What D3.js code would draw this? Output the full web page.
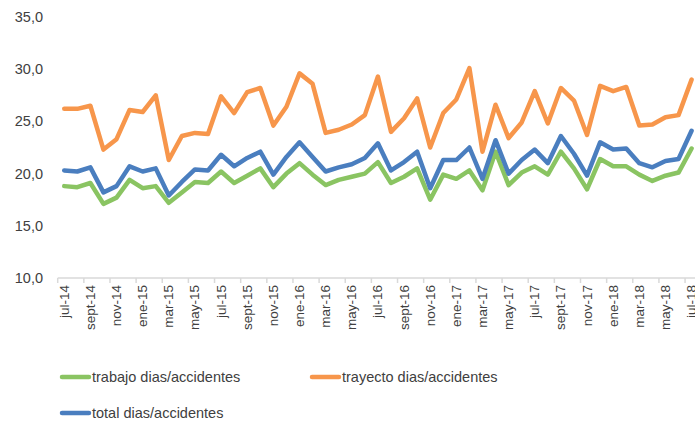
<!DOCTYPE html>
<html>
<head>
<meta charset="utf-8">
<script src="https://cdn.jsdelivr.net/npm/d3@7"></script>
<style>
  html, body { margin: 0; padding: 0; background: #fff; }
  svg { display: block; font-family: "Liberation Sans", Arial, sans-serif; }
</style>
</head>
<body>
<svg id="chart" width="695" height="423"></svg>
<script>
const months = ["jul","ago","sept","oct","nov","dic","ene","feb","mar","abr","may","jun"];
const categories = [];
for (let i = 0; i < 49; i++) {
  const m = (6 + i) % 12;
  const y = 14 + Math.floor((6 + i) / 12);
  categories.push(months[(i) % 12] + "-" + y);
}
const trabajo = [18.8,18.7,19.1,17.1,17.7,19.4,18.6,18.8,17.2,18.2,19.2,19.1,20.2,19.1,19.8,20.5,18.7,20.0,21.0,19.9,18.9,19.4,19.7,20.0,21.1,19.1,19.7,20.5,17.5,19.9,19.5,20.3,18.4,22.1,18.9,20.1,20.7,19.9,22.1,20.5,18.5,21.4,20.7,20.7,19.9,19.3,19.8,20.1,22.4];
const trayecto = [26.2,26.2,26.5,22.3,23.3,26.1,25.9,27.5,21.3,23.6,23.9,23.8,27.4,25.8,27.8,28.2,24.6,26.4,29.6,28.6,23.9,24.2,24.7,25.6,29.3,24.0,25.3,27.2,22.5,25.8,27.1,30.1,22.1,26.6,23.4,24.9,27.9,24.8,28.2,27.0,23.7,28.4,27.9,28.3,24.6,24.7,25.4,25.6,29.0];
const total = [20.3,20.2,20.6,18.2,18.8,20.7,20.2,20.5,17.9,19.2,20.4,20.3,21.8,20.7,21.5,22.1,19.9,21.6,23.0,21.6,20.2,20.6,20.9,21.5,22.9,20.3,21.1,22.1,18.6,21.3,21.3,22.5,19.5,23.2,20.0,21.3,22.3,21.0,23.6,21.9,19.8,23.0,22.3,22.4,21.0,20.6,21.2,21.4,24.1];
const yTicks = [10,15,20,25,30,35];
const seriesNames = ["trabajo dias/accidentes","trayecto dias/accidentes","total dias/accidentes"];
const colors = ["#8AC462","#F7964B","#4A7EBF"];

const svg = d3.select("#chart");
const left = 57.7, bandW = 13.07;
const x = d3.scaleBand().domain(categories).range([left, left + bandW * categories.length]).paddingInner(0).paddingOuter(0);
const y = d3.scaleLinear().domain([10, 35]).range([278, 17]);

// y labels
svg.append("g").selectAll("text").data(yTicks).join("text")
  .attr("x", 43).attr("y", d => y(d)).attr("dy", "0.35em")
  .attr("text-anchor", "end").attr("font-size", "14.5px").attr("fill", "#404040")
  .text(d => d.toFixed(1).replace(".", ","));

// x axis line and ticks
const ax = svg.append("g");
ax.append("line").attr("x1", left).attr("x2", left + bandW * categories.length)
  .attr("y1", 278).attr("y2", 278).attr("stroke", "#d9d9d9").attr("stroke-width", 1.5);
const tickIdx = d3.range(0, categories.length + 1, 2);
ax.selectAll("line.t").data(tickIdx).join("line").attr("class", "t")
  .attr("x1", i => left + i * bandW).attr("x2", i => left + i * bandW)
  .attr("y1", 278).attr("y2", 283).attr("stroke", "#d9d9d9").attr("stroke-width", 1.5);
ax.selectAll("text").data(categories.filter((d, i) => i % 2 === 0)).join("text")
  .attr("transform", d => `translate(${x(d) + x.bandwidth() / 2 + 4.5},285) rotate(-90)`)
  .attr("text-anchor", "end").attr("font-size", "13.5px").attr("fill", "#404040")
  .text(d => d);

// lines
const line = d3.line().x((d, i) => x(categories[i]) + x.bandwidth() / 2).y(d => y(d));
[trabajo, trayecto, total].forEach((s, k) => {
  svg.append("path").datum(s).attr("d", line).attr("fill", "none")
    .attr("stroke", colors[k]).attr("stroke-width", 4.5)
    .attr("stroke-linejoin", "round").attr("stroke-linecap", "round");
});

// legend
const legPos = [[60, 377], [310, 377], [60, 413]];
legPos.forEach((p, k) => {
  svg.append("line").attr("x1", p[0] + 2).attr("x2", p[0] + 29).attr("y1", p[1]).attr("y2", p[1])
    .attr("stroke", colors[k]).attr("stroke-width", 4.5).attr("stroke-linecap", "round");
  svg.append("text").attr("x", p[0] + 32).attr("y", p[1]).attr("dy", "0.35em")
    .attr("font-size", "14.5px").attr("fill", "#404040").text(seriesNames[k]);
});
</script>
</body>
</html>
